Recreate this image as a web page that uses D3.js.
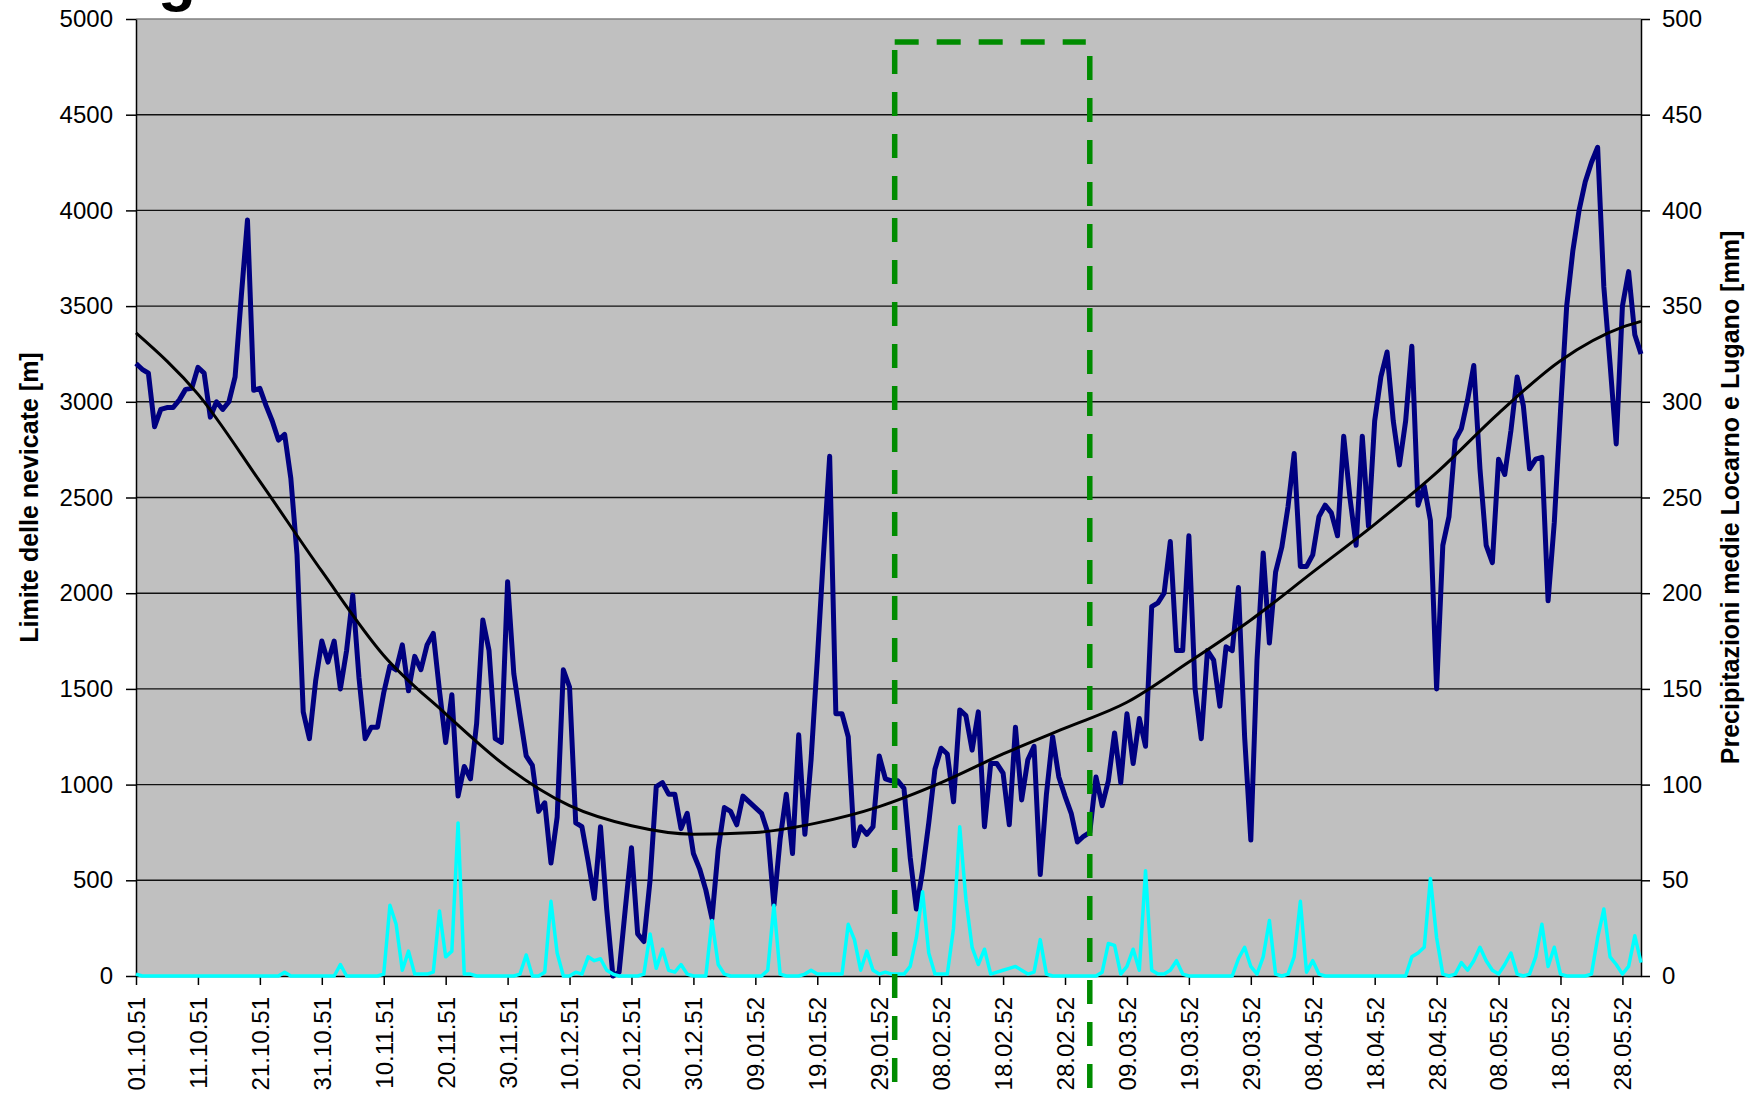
<!DOCTYPE html>
<html>
<head>
<meta charset="utf-8">
<script src="https://cdn.jsdelivr.net/npm/d3@7"></script>
<style>
  body { margin: 0; background: #fff; }
  svg { display: block; font-family: "Liberation Sans", Arial, sans-serif; }
</style>
</head>
<body>
<svg id="chart"></svg>
<script>
// Daily values, 01.10.51 .. 31.05.52 (244 days)
const snowLine = [
  3200, 3170, 3150, 2870, 2960, 2970, 2970, 3010, 3065, 3070,
  3180, 3150, 2920, 3000, 2960, 3000, 3130, 3550, 3950, 3060,
  3070, 2980, 2900, 2800, 2830, 2600, 2200, 1380, 1240, 1540,
  1750, 1640, 1750, 1500, 1700, 1990, 1560, 1240, 1300, 1300,
  1480, 1620, 1600, 1730, 1490, 1670, 1600, 1730, 1790, 1490,
  1220, 1470, 940, 1095, 1030, 1320, 1860, 1700, 1240, 1220,
  2060, 1580, 1360, 1150, 1100, 860, 905, 590, 830, 1600,
  1510, 800, 780, 600, 405, 780, 350, 0, 20, 350,
  670, 220, 180, 500, 990, 1010, 950, 950, 770, 850,
  640, 560, 450, 300, 660, 880, 860, 790, 940, 910,
  880, 850, 750, 370, 715, 950, 640, 1260, 740, 1130,
  1650, 2200, 2715, 1370, 1370, 1250, 680, 780, 740, 780,
  1150, 1030, 1020, 1020, 980, 620, 350, 550, 800, 1080,
  1190, 1160, 910, 1390, 1360, 1180, 1380, 780, 1110, 1110,
  1060, 790, 1300, 920, 1130, 1200, 530, 950, 1250, 1040,
  940, 850, 700, 730, 750, 1040, 890, 1020, 1270, 1010,
  1370, 1110, 1345, 1200, 1930, 1950, 2000, 2270, 1700, 1700,
  2300, 1500, 1240, 1700, 1650, 1410, 1720, 1700, 2030, 1250,
  710, 1650, 2210, 1740, 2110, 2240, 2450, 2730, 2140, 2140,
  2200, 2400, 2460, 2420, 2300, 2820, 2500, 2250, 2820, 2350,
  2900, 3130, 3260, 2900, 2670, 2900, 3290, 2460, 2560, 2380,
  1500, 2250, 2400, 2800, 2860, 3010, 3190, 2650, 2250, 2160,
  2700, 2620, 2850, 3130, 2980, 2650, 2700, 2710, 1960, 2370,
  2950, 3500, 3790, 4000, 4150, 4250, 4330, 3600, 3200, 2780,
  3500, 3680, 3350, 3250
];

const precipitation = [
  1, 0, 0, 0, 0, 0, 0, 0, 0, 0,
  0, 0, 0, 0, 0, 0, 0, 0, 0, 0,
  0, 0, 0, 0, 2, 0, 0, 0, 0, 0,
  0, 0, 0, 6, 0, 0, 0, 0, 0, 0,
  1, 37, 27, 3, 13, 1, 1, 1, 2, 34,
  10, 13, 80, 1, 1, 0, 0, 0, 0, 0,
  0, 0, 1, 11, 0, 0, 2, 39, 12, 0,
  0, 2, 1, 10, 8, 9, 3, 1, 0, 0,
  0, 0, 1, 22, 4, 14, 3, 2, 6, 1,
  0, 0, 0, 29, 6, 1, 0, 0, 0, 0,
  0, 0, 3, 37, 1, 0, 0, 0, 1, 3,
  1, 1, 1, 1, 1, 27, 19, 3, 13, 3,
  1, 2, 1, 1, 1, 5, 20, 44, 12, 1,
  1, 1, 25, 78, 40, 15, 6, 14, 1, 2,
  3, 4, 5, 3, 1, 2, 19, 1, 0, 0,
  0, 0, 0, 0, 0, 0, 2, 17, 16, 1,
  5, 14, 3, 55, 3, 1, 1, 3, 8, 1,
  0, 0, 0, 0, 0, 0, 0, 0, 9, 15,
  5, 1, 10, 29, 1, 0, 1, 10, 39, 2,
  8, 1, 0, 0, 0, 0, 0, 0, 0, 0,
  0, 0, 0, 0, 0, 0, 10, 12, 15, 51,
  20, 1, 0, 1, 7, 3, 8, 15, 8, 3,
  1, 6, 12, 1, 0, 1, 10, 27, 5, 15,
  1, 0, 0, 0, 0, 1, 20, 35, 10, 6,
  1, 5, 21, 7
];

// polynomial trend of the snow line, read at a few days
const trendDays = [0, 10, 20, 30, 40, 50, 60, 70, 80, 90, 100, 110, 120, 130, 140, 150, 160, 170, 180, 190, 200, 210, 220, 230, 240, 243];
const trendValues = [3360, 3040, 2584, 2115, 1675, 1370, 1090, 890, 785, 741, 750, 800, 885, 1010, 1160, 1295, 1430, 1640, 1860, 2110, 2360, 2630, 2940, 3215, 3390, 3420];

const tickDays = [0, 10, 20, 30, 40, 50, 60, 70, 80, 90, 100, 110, 120, 130, 140, 150, 160, 170, 180, 190, 200, 210, 220, 230, 240];
const tickLabels = ["01.10.51", "11.10.51", "21.10.51", "31.10.51", "10.11.51", "20.11.51", "30.11.51", "10.12.51",
  "20.12.51", "30.12.51", "09.01.52", "19.01.52", "29.01.52", "08.02.52", "18.02.52", "28.02.52",
  "09.03.52", "19.03.52", "29.03.52", "08.04.52", "18.04.52", "28.04.52", "08.05.52", "18.05.52", "28.05.52"];
const leftTicks = [0, 500, 1000, 1500, 2000, 2500, 3000, 3500, 4000, 4500, 5000];
const rightTicks = [0, 50, 100, 150, 200, 250, 300, 350, 400, 450, 500];

// highlighted period (green dashed frame)
const frameDays = [122.5, 154];
const frameTop = 4880;
const frameBottom = -560;

const margin = {top: 19, right: 113, bottom: 121, left: 136},
    width = 1754 - margin.left - margin.right,
    height = 1097 - margin.top - margin.bottom;

const svg = d3.select("#chart")
    .attr("width", width + margin.left + margin.right)
    .attr("height", height + margin.top + margin.bottom);

// bottom of the page title, cut off by the top edge
svg.append("text")
    .attr("x", 158)
    .attr("y", -1)
    .attr("font-size", "62px")
    .attr("font-weight", "bold")
    .text("g");

const g = svg.append("g")
    .attr("transform", `translate(${margin.left},${margin.top})`);

const x = d3.scaleLinear().domain([0, snowLine.length - 1]).range([0, width]);
const yLeft = d3.scaleLinear().domain([0, 5000]).range([height, 0]);
const yRight = d3.scaleLinear().domain([0, 500]).range([height, 0]);

// plot area
g.append("rect")
    .attr("width", width)
    .attr("height", height)
    .attr("fill", "#c0c0c0");

// gridlines
g.selectAll(".grid")
    .data(leftTicks.filter(v => v > 0 && v < 5000))
    .enter()
    .append("line")
    .attr("x1", 0)
    .attr("x2", width)
    .attr("y1", d => yLeft(d))
    .attr("y2", d => yLeft(d))
    .attr("stroke", "#111")
    .attr("stroke-width", 1.4);

g.append("line")
    .attr("x1", 0).attr("x2", width)
    .attr("y1", 0).attr("y2", 0)
    .attr("stroke", "#808080")
    .attr("stroke-width", 1.5);

// axes
const fontSize = "24px";

const leftAxis = g.append("g")
    .call(d3.axisLeft(yLeft).tickValues(leftTicks).tickFormat(d3.format("d"))
        .tickSize(10).tickSizeOuter(0).tickPadding(13));

const rightAxis = g.append("g")
    .attr("transform", `translate(${width},0)`)
    .call(d3.axisRight(yRight).tickValues(rightTicks).tickFormat(d3.format("d"))
        .tickSize(9).tickSizeOuter(0).tickPadding(12));

const bottomAxis = g.append("g")
    .attr("transform", `translate(0,${height})`)
    .call(d3.axisBottom(x).tickValues(tickDays).tickFormat((d, i) => tickLabels[i]).tickSize(9).tickSizeOuter(0));

bottomAxis.selectAll("text")
    .attr("transform", "rotate(-90)")
    .attr("text-anchor", "end")
    .attr("x", -21)
    .attr("y", 0)
    .attr("dy", "0.35em");

[leftAxis, rightAxis, bottomAxis].forEach(ax => {
    ax.selectAll("text").attr("font-size", fontSize).attr("font-family", "Liberation Sans, Arial, sans-serif").attr("fill", "#000");
    ax.selectAll("line").attr("stroke", "#000").attr("stroke-width", 1.5);
    ax.select(".domain").attr("stroke", "#000").attr("stroke-width", 1.5);
});

// series
const snowPath = d3.line()
    .x((d, i) => x(i))
    .y(d => yLeft(d));

g.append("path")
    .datum(snowLine)
    .attr("fill", "none")
    .attr("stroke", "#000080")
    .attr("stroke-width", 5)
    .attr("stroke-linejoin", "round")
    .attr("d", snowPath);

const trendPath = d3.line()
    .x((d, i) => x(trendDays[i]))
    .y(d => yLeft(d))
    .curve(d3.curveMonotoneX);

g.append("path")
    .datum(trendValues)
    .attr("fill", "none")
    .attr("stroke", "#000")
    .attr("stroke-width", 3)
    .attr("d", trendPath);

const precipPath = d3.line()
    .x((d, i) => x(i))
    .y(d => yRight(d));

g.append("path")
    .datum(precipitation)
    .attr("fill", "none")
    .attr("stroke", "#00ffff")
    .attr("stroke-width", 3.5)
    .attr("stroke-linejoin", "round")
    .attr("d", precipPath);

// green dashed frame
const frame = g.append("g")
    .attr("fill", "none")
    .attr("stroke", "#008c00")
    .attr("stroke-width", 5.5)
    .attr("stroke-dasharray", "24,18");

frame.append("line")
    .attr("x1", x(frameDays[0])).attr("x2", x(frameDays[1]) - 4)
    .attr("y1", yLeft(frameTop)).attr("y2", yLeft(frameTop));

frame.append("line")
    .attr("x1", x(frameDays[0])).attr("x2", x(frameDays[0]))
    .attr("y1", yLeft(frameTop) + 8).attr("y2", yLeft(frameBottom));

frame.append("line")
    .attr("x1", x(frameDays[1])).attr("x2", x(frameDays[1]))
    .attr("y1", yLeft(frameTop) + 14).attr("y2", yLeft(frameBottom) + 6);

// axis titles
svg.append("text")
    .attr("text-anchor", "middle")
    .attr("dominant-baseline", "central")
    .attr("transform", `translate(29, ${margin.top + height / 2}) rotate(-90)`)
    .attr("font-size", "25px")
    .attr("font-weight", "bold")
    .text("Limite delle nevicate [m]");

svg.append("text")
    .attr("text-anchor", "middle")
    .attr("dominant-baseline", "central")
    .attr("transform", `translate(1730, ${margin.top + height / 2}) rotate(-90)`)
    .attr("font-size", "25px")
    .attr("font-weight", "bold")
    .text("Precipitazioni medie Locarno e Lugano [mm]");
</script>
</body>
</html>
